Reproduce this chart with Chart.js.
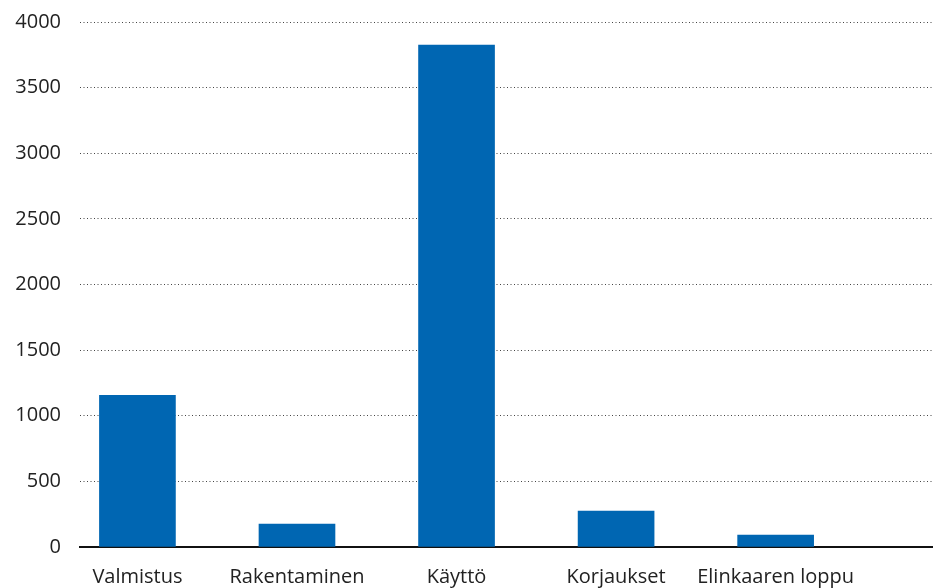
<!DOCTYPE html>
<html>
<head>
<meta charset="utf-8">
<script src="https://cdn.jsdelivr.net/npm/chart.js@4"></script>
<style>
  html, body { margin: 0; padding: 0; background: #fff; }
  #wrap { width: 935px; height: 588px; position: relative; }
</style>
</head>
<body>
<div id="wrap"><canvas id="lifeCycleChart"></canvas></div>
<script>
const categories = ['Valmistus', 'Rakentaminen', 'Käyttö', 'Korjaukset', 'Elinkaaren loppu'];
const values = [1155, 175, 3825, 273, 90];
const yTicks = [0, 500, 1000, 1500, 2000, 2500, 3000, 3500, 4000];

const FONT = '"Open Sans", "Noto Sans", sans-serif';

function initChart() {
  const canvas = document.getElementById('lifeCycleChart');
  const ctx = canvas.getContext('2d');

  new Chart(ctx, {
    type: 'bar',
    data: {
      datasets: [{
        data: values.map((v, i) => ({ x: i, y: v })),
        backgroundColor: '#0066b2',
        borderWidth: 0,
        barThickness: 76
      }]
    },
    options: {
      responsive: true,
      maintainAspectRatio: false,
      animation: false,
      layout: { padding: { top: 22, right: 3, left: 0, bottom: 0 } },
      plugins: {
        legend: { display: false },
        tooltip: { enabled: false }
      },
      scales: {
        x: {
          type: 'linear',
          offset: false,
          min: -0.36,
          max: 4.98,
          grid: { display: false },
          border: { display: true, color: '#111', width: 2 },
          afterBuildTicks: (s) => { s.ticks = categories.map((c, i) => ({ value: i })); },
          afterFit: (s) => { s.height = 41; },
          ticks: {
            autoSkip: false,
            maxRotation: 0,
            padding: 10,
            color: '#222',
            font: { family: FONT, size: 20 },
            callback: (v) => categories[v] ?? ''
          }
        },
        y: {
          min: 0,
          max: 4000,
          afterBuildTicks: (s) => { s.ticks = yTicks.map(v => ({ value: v })); },
          afterFit: (s) => {
            s.width = 80;
            // keep the top gridline close to the canvas edge
            s.paddingTop = 0;
            s.paddingBottom = 0;
          },
          border: { display: false, dash: [1, 2.5] },
          grid: {
            color: '#444',
            lineWidth: 1,
            drawTicks: false
          },
          ticks: {
            padding: 19,
            color: '#222',
            font: { family: FONT, size: 20 },
            callback: (v) => String(v)
          }
        }
      }
    }
  });
}

if (document.readyState === 'loading') {
  document.addEventListener('DOMContentLoaded', initChart);
} else {
  initChart();
}
</script>
</body>
</html>
